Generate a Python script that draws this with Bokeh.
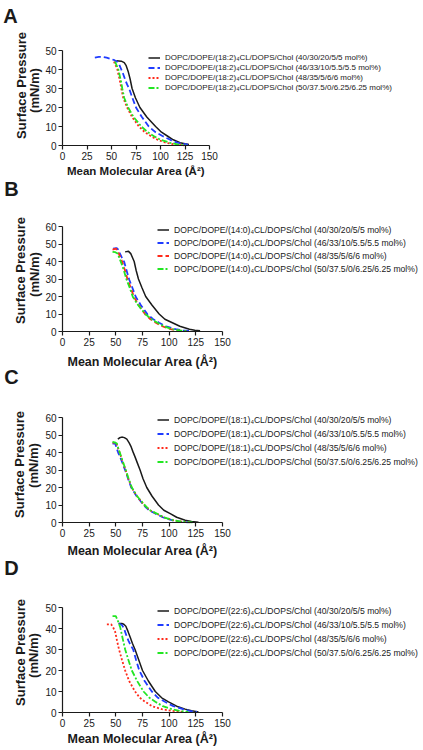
import numpy as np
from bokeh.plotting import figure
from bokeh.models import Range1d, FixedTicker, Label, Legend, LegendItem, LinearAxis
from bokeh.embed import file_html
from bokeh.resources import INLINE

# ---------------- data ----------------
x_ticks = [0, 25, 50, 75, 100, 125, 150]
y_ticks_50 = [0, 10, 20, 30, 40, 50]
y_ticks_60 = [0, 10, 20, 30, 40, 50, 60]
panel_letters = ["A", "B", "C", "D"]
acyl_chains = ["18:2", "14:0", "18:1", "22:6"]
compositions = ["(40/30/20/5/5 mol%)", "(46/33/10/5.5/5.5 mol%)",
                "(48/35/5/6/6 mol%)", "(50/37.5/0/6.25/6.25 mol%)"]
x_label = "Mean Molecular Area (\u00c5\u00b2)"
y_label_1 = "Surface Pressure"
y_label_2 = "(mN/m)"

# Panel A (18:2)
A_black_x = [55, 60, 63, 65, 67, 69, 71, 74.5, 79, 86, 95, 101, 107, 113, 120, 125, 129]
A_black_y = [44.6, 44.4, 43.6, 42, 39, 35, 30, 25, 20, 15, 10, 7, 5, 3, 1.5, 0.9, 0.5]
A_blue_x = [33, 37, 41, 45, 49, 53, 56, 58, 60, 62, 64, 66, 68, 71, 75, 81, 88, 95, 102, 110, 117, 123, 128]
A_blue_y = [46.3, 46.6, 46.6, 46.2, 45.6, 44.9, 44, 42.5, 40, 37.5, 34.6, 32, 30, 25.5, 20, 15, 10, 7, 5, 3, 1.5, 0.9, 0.5]
A_red_x = [52.5, 54, 56, 57.5, 59, 60, 62, 66, 71, 78, 84, 90, 97, 106, 115, 124]
A_red_y = [44.2, 42.5, 40, 36.5, 33, 30, 25, 20, 15, 10, 7, 5, 3, 1.4, 0.5, 0.1]
A_green_x = [53.5, 55, 57, 58.5, 60, 61, 63, 67, 72.5, 80.5, 87, 93, 100, 110, 118, 126]
A_green_y = [44.2, 42.5, 40, 36.5, 33, 30, 25, 20, 15, 10, 7, 5, 3, 1.4, 0.5, 0.1]

# Panel B (14:0)
B_black_x = [58.7, 61.9, 64, 67.2, 69, 71.2, 74.5, 78, 84, 90.6, 96, 103, 110, 119, 124, 129]
B_black_y = [45.5, 45.8, 44.5, 40, 35, 30, 25, 20, 15, 10, 7, 5, 3, 1.3, 0.7, 0.4]
B_blue_x = [47.5, 50.6, 52, 53, 55.5, 57.8, 60, 62.5, 65.5, 68.75, 73.5, 79.7, 85, 90.6, 97, 106, 113, 120]
B_blue_y = [47.3, 47.7, 47, 45.5, 42.5, 39.8, 35, 29.7, 25, 19.7, 15, 9.8, 7, 5, 3, 1.3, 0.6, 0.2]
B_red_x = [46.9, 50, 51.5, 52.5, 56, 58.5, 61, 64, 67, 71.5, 77.5, 82.5, 87.5, 93.5, 101.6, 108, 116]
B_red_y = [46.8, 47.3, 46.5, 44.9, 39.8, 35, 29.7, 25, 19.7, 15, 9.8, 7, 5, 3, 1.3, 0.6, 0.2]
B_green_x = [46.9, 49.5, 51.6, 54.7, 57.5, 60, 63, 66, 71, 78, 83.5, 89, 95, 103, 110, 117]
B_green_y = [45.5, 45.3, 44.6, 39.8, 35, 29.7, 25, 19.7, 15, 9.8, 7, 5, 3, 1.3, 0.6, 0.2]

# Panel C (18:1)
C_black_x = [51.9, 53.5, 55.6, 58, 60.3, 62.5, 64.4, 66, 68, 70.5, 72.8, 75.5, 79, 84, 90, 95, 101, 107, 115, 121, 127.5]
C_black_y = [47.6, 48.4, 48.8, 48.5, 47.6, 45.5, 43.2, 40.5, 37.5, 33.5, 29.9, 25, 20, 15, 10, 7, 5.1, 3, 1.3, 0.6, 0.2]
C_blue_x = [46.9, 49.4, 51, 52.5, 54, 56.5, 58.75, 61.5, 64.4, 69.5, 76, 81, 87, 94, 102.5, 110, 118]
C_blue_y = [45.1, 45.1, 42, 39.5, 37.5, 33.5, 29.9, 25, 20, 15, 10, 7, 5.1, 3, 1.3, 0.5, 0.05]
C_red_x = [46.9, 49, 51, 52.5, 54, 55, 57.2, 59.2, 61.8, 64.8, 69.8, 76.7, 81.8, 88, 94.8, 103.5, 111.5, 121]
C_red_y = [45.7, 45.5, 44.6, 41.8, 39.2, 37.3, 33.3, 29.8, 25, 20, 15, 10, 7, 5.1, 3, 1.3, 0.5, 0.05]
C_green_x = [46.9, 49, 51, 52.5, 54, 55, 57.3, 59.4, 62, 65, 70, 76.9, 82, 88.4, 95, 104, 112, 121.9]
C_green_y = [46, 45.8, 45.1, 42, 39.5, 37.5, 33.5, 29.9, 25, 20, 15, 10, 7, 5.1, 3, 1.3, 0.5, 0.05]

# Panel D (22:6)
D_black_x = [52.5, 55.6, 57.5, 59.4, 61.5, 63.4, 65.5, 68, 71.5, 75, 80.5, 87, 93, 99.4, 107, 115, 121, 127.5]
D_black_y = [42.4, 42.4, 42, 41.1, 38.5, 36, 33, 30, 25, 20, 15, 10, 7, 5.1, 3, 1.6, 0.8, 0.3]
D_blue_x = [53, 56, 58, 60, 62, 64, 66.25, 69, 72, 77, 83.75, 89.5, 96, 104, 113, 119, 126]
D_blue_y = [42.4, 41.5, 39.5, 36.5, 34, 32, 30, 25, 20, 15, 10, 7, 5.1, 3, 1.6, 0.8, 0.3]
D_red_x = [41.6, 45.6, 47.5, 49.4, 51.2, 53, 55.8, 58.75, 62.5, 68, 72.5, 77.5, 84, 93, 102, 112]
D_red_y = [42, 42, 40.5, 38.4, 34, 30, 25, 20, 15, 10, 7, 5.1, 3, 1.6, 0.8, 0.3]
D_green_x = [46.9, 50, 52, 54, 56.3, 58.75, 61.8, 65, 70, 76, 81.5, 87, 94, 102.5, 110, 118]
D_green_y = [45.9, 45.9, 43.5, 40.8, 35.5, 30, 25, 20, 15, 10, 7, 5.1, 3, 1.6, 0.8, 0.3]

panel_data = [
    [(A_black_x, A_black_y), (A_blue_x, A_blue_y), (A_red_x, A_red_y), (A_green_x, A_green_y)],
    [(B_black_x, B_black_y), (B_blue_x, B_blue_y), (B_red_x, B_red_y), (B_green_x, B_green_y)],
    [(C_black_x, C_black_y), (C_blue_x, C_blue_y), (C_red_x, C_red_y), (C_green_x, C_green_y)],
    [(D_black_x, D_black_y), (D_blue_x, D_blue_y), (D_red_x, D_red_y), (D_green_x, D_green_y)],
]
panel_ymax = [50, 60, 60, 50]
x_max = 150

# ---------------- styles / layout (page pixels) ----------------
W, H = 423, 750
FONT = "Liberation Sans"
TXT = "#1a1a1a"
series_colors = ["#1a1a1a", "#1f3cff", "#ff2a1a", "#22e622"]
series_dash = ["solid", "6 3", "2 2", "6 2 2 2"]
series_width = [1.5, 1.8, 1.8, 1.8]
red_dash_per_panel = ["2 2", "5 3", "2 2", "2 2"]

# frame box of each panel: left, right (x=max), top (y=max), bottom (y=0)
frames = [(62, 209, 50, 145), (62, 222, 226, 331), (62, 222, 417, 522), (62, 222, 607, 712)]
# legend: glyph left x, first-row top y, spacing, font size
legends = [(148, 52.5, 1, "8px"), (157, 228.5, 3, "8.6px"),
           (157, 418.5, 4, "8.6px"), (157, 609.5, 4, "8.6px")]
# text centres: letter, x-label, "Surface Pressure", "(mN/m)"
letter_pos = [(10, 15), (11, 188), (11, 376), (11, 567)]
xlab_pos = [(135.5, 170), (142, 361), (142, 550), (142, 738)]
ylab1_pos = [(21, 85), (20, 270), (19, 464), (20, 652)]
ylab2_pos = [(34, 90), (33.5, 274), (33, 465), (33, 655)]

p = figure(width=W, height=H, output_backend="svg", toolbar_location=None,
           x_range=Range1d(0, W), y_range=Range1d(0, H),
           x_axis_location=None, y_axis_location=None, min_border=0)
p.outline_line_color = None
p.background_fill_color = None
p.border_fill_color = None
p.xgrid.grid_line_color = None
p.ygrid.grid_line_color = None
for g in p.grid:
    g.visible = False


def scr(px, py):
    return px, H - py


def text_label(pos, text, size, angle=0.0):
    x, y = scr(*pos)
    p.add_layout(Label(x=x, y=y, x_units="screen", y_units="screen", text=text,
                       angle=angle, text_align="center", text_baseline="middle",
                       text_font=FONT, text_font_style="bold", text_font_size=size,
                       text_color=TXT))


for i in range(4):
    fl, fr, ft, fb = frames[i]
    ymax = panel_ymax[i]
    sx = (fr - fl) / x_max
    sy = (fb - ft) / ymax
    xn, yn = "x%d" % i, "y%d" % i
    p.extra_x_ranges[xn] = Range1d(-fl / sx, (W - fl) / sx)
    p.extra_y_ranges[yn] = Range1d(-(H - fb) / sy, ymax + ft / sy)

    xax = LinearAxis(x_range_name=xn, y_range_name=yn, fixed_location=0,
                     bounds=(0, x_max), ticker=FixedTicker(ticks=x_ticks))
    yax = LinearAxis(x_range_name=xn, y_range_name=yn, fixed_location=0,
                     bounds=(0, ymax),
                     ticker=FixedTicker(ticks=y_ticks_50 if ymax == 50 else y_ticks_60))
    for ax in (xax, yax):
        ax.axis_line_color = TXT
        ax.axis_line_width = 1.2
        ax.major_tick_line_color = TXT
        ax.major_tick_line_width = 1.2
        ax.major_tick_out = 4
        ax.major_tick_in = 0
        ax.minor_tick_line_color = None
        ax.major_label_text_font = FONT
        ax.major_label_text_font_size = "10px"
        ax.major_label_text_color = TXT
        ax.major_label_standoff = 2
    p.add_layout(xax, "below")
    p.add_layout(yax, "left")

    items = []
    for k, (xs, ys) in enumerate(panel_data[i]):
        dash = series_dash[k] if k != 2 else red_dash_per_panel[i]
        r = p.line(xs, ys, x_range_name=xn, y_range_name=yn,
                   line_color=series_colors[k], line_width=series_width[k], line_dash=dash)
        lab = "DOPC/DOPE/(" + acyl_chains[i] + ")\u2084CL/DOPS/Chol " + compositions[k]
        items.append(LegendItem(label=lab, renderers=[r]))
    gx, gtop, sp, fs = legends[i]
    leg_h = 4 * 9 + 3 * sp
    leg = Legend(items=items, location=(gx, H - (gtop + leg_h)), padding=0, margin=0,
                 spacing=sp, glyph_width=12, glyph_height=9, label_height=9,
                 label_standoff=5, label_text_font=FONT, label_text_font_size=fs,
                 label_text_color=TXT, background_fill_alpha=0, border_line_color=None)
    p.add_layout(leg)

    text_label(letter_pos[i], panel_letters[i], "20px")
    text_label(xlab_pos[i], x_label, "12.5px" if i else "11.5px")
    text_label(ylab1_pos[i], y_label_1, "13px", np.pi / 2)
    text_label(ylab2_pos[i], y_label_2, "13px", np.pi / 2)

open("out.html", "w").write(file_html(p, INLINE))
